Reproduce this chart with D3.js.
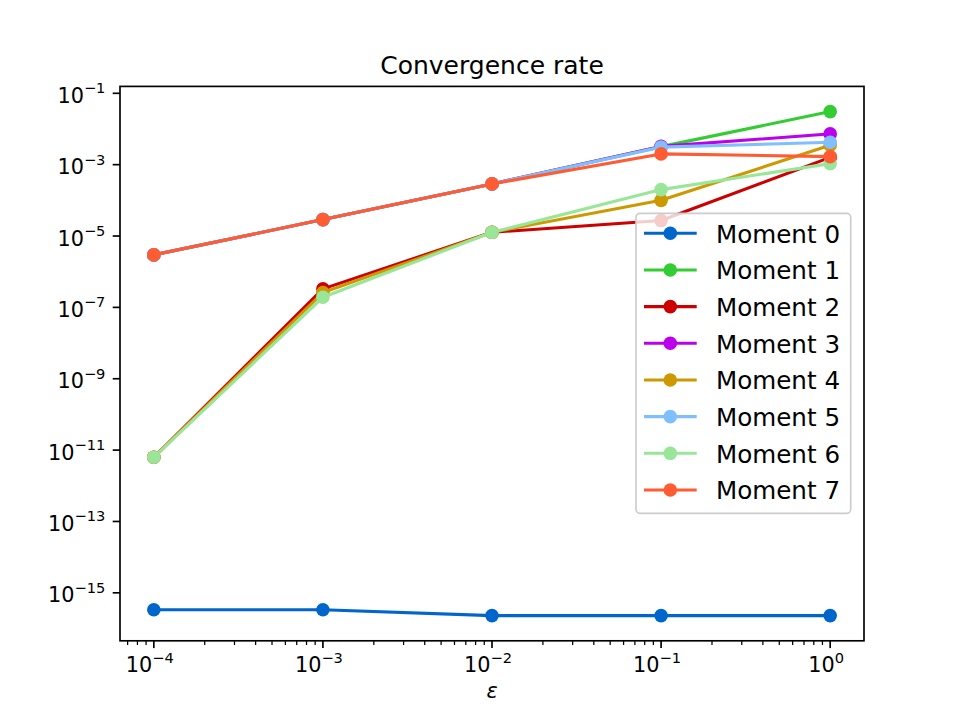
<!DOCTYPE html>
<html>
<head>
<meta charset="utf-8">
<script src="https://cdn.jsdelivr.net/npm/d3@7"></script>
<style>
  body { margin: 0; background: #fff; }
  svg text { font-family: "DejaVu Sans", sans-serif; fill: #000; }
</style>
</head>
<body>
<div id="chart"></div>
<script>
// ---------- DATA ----------
const epsilons = [1e-4, 1e-3, 1e-2, 1e-1, 1e0];

const moment0 = [3.35e-16, 3.35e-16, 2.3e-16, 2.3e-16, 2.3e-16];
const moment1 = [2.96e-6, 2.89e-5, 2.89e-4, 3.2e-3, 3.07e-2];
const moment2 = [6.3e-12, 3.3e-7, 1.27e-5, 2.71e-5, 1.6e-3];
const moment3 = [2.96e-6, 2.89e-5, 2.89e-4, 3.25e-3, 7.28e-3];
const moment4 = [6.3e-12, 2.6e-7, 1.27e-5, 1.0e-4, 3.5e-3];
const moment5 = [2.96e-6, 2.89e-5, 2.89e-4, 3.1e-3, 4.24e-3];
const moment6 = [6.3e-12, 1.92e-7, 1.27e-5, 2.0e-4, 1.07e-3];
const moment7 = [2.96e-6, 2.89e-5, 2.89e-4, 2.0e-3, 1.68e-3];

const seriesNames = ["Moment 0", "Moment 1", "Moment 2", "Moment 3",
  "Moment 4", "Moment 5", "Moment 6", "Moment 7"];
const seriesValues = [moment0, moment1, moment2, moment3,
  moment4, moment5, moment6, moment7];
const seriesColors = ["#0066CC", "#33CC33", "#CC0000", "#BB00EE",
  "#CC9900", "#80BFFF", "#99E699", "#FF5C33"];

const xTickExps = [-4, -3, -2, -1, 0];
const yTickExps = [-15, -13, -11, -9, -7, -5, -3, -1];

// ---------- LAYOUT ----------
const width = 960;
const height = 720;
const plot = { left: 120, right: 864, top: 86.4, bottom: 640.8 };
const markerR = 6.8;

const svg = d3.select("#chart")
  .append("svg")
  .attr("width", width)
  .attr("height", height);

// log scales with matplotlib-like 5% margins (in log space)
const xLog = d3.extent(epsilons, (d) => Math.log10(d));
const xPad = (xLog[1] - xLog[0]) * 0.05;
const x = d3.scaleLog()
  .domain([Math.pow(10, xLog[0] - xPad), Math.pow(10, xLog[1] + xPad)])
  .range([plot.left, plot.right]);

const allValues = seriesValues.flat();
const yLog = d3.extent(allValues, (d) => Math.log10(d));
const yPad = (yLog[1] - yLog[0]) * 0.05;
const y = d3.scaleLog()
  .domain([Math.pow(10, yLog[0] - yPad), Math.pow(10, yLog[1] + yPad)])
  .range([plot.bottom, plot.top]);

const series = seriesNames.map((name, i) => ({
  name: name,
  color: seriesColors[i],
  points: epsilons.map((e, j) => ({ x: e, y: seriesValues[i][j] })),
}));

// ---------- LINES + MARKERS ----------
const line = d3.line()
  .x((d) => x(d.x))
  .y((d) => y(d.y));

const dataG = svg.append("g");
series.forEach((s) => {
  const g = dataG.append("g");
  g.append("path")
    .datum(s.points)
    .attr("d", line)
    .attr("fill", "none")
    .attr("stroke", s.color)
    .attr("stroke-width", 3.1)
    .attr("stroke-linejoin", "round")
    .attr("stroke-linecap", "square");
  g.selectAll("circle")
    .data(s.points)
    .enter()
    .append("circle")
    .attr("cx", (d) => x(d.x))
    .attr("cy", (d) => y(d.y))
    .attr("r", markerR)
    .attr("fill", s.color);
});

// ---------- AXES ----------
svg.append("rect")
  .attr("x", plot.left)
  .attr("y", plot.top)
  .attr("width", plot.right - plot.left)
  .attr("height", plot.bottom - plot.top)
  .attr("fill", "none")
  .attr("stroke", "#000")
  .attr("stroke-width", 1.67);

// x major ticks
const xAxisG = svg.append("g");
xTickExps.forEach((e) => {
  const px = x(Math.pow(10, e));
  xAxisG.append("line")
    .attr("x1", px).attr("x2", px)
    .attr("y1", plot.bottom).attr("y2", plot.bottom + 7.3)
    .attr("stroke", "#000").attr("stroke-width", 1.67);
  const t = xAxisG.append("text")
    .attr("x", px - 4)
    .attr("y", plot.bottom + 31.5)
    .attr("text-anchor", "middle")
    .style("font-size", "20.8px");
  t.append("tspan").text("10");
  t.append("tspan")
    .attr("dy", -9.5)
    .style("font-size", "14.6px")
    .text(e < 0 ? "\u2212" + Math.abs(e) : String(e));
});

// x minor ticks
const [xd0, xd1] = x.domain();
for (let e = -5; e <= 0; e++) {
  for (let k = 2; k <= 9; k++) {
    const v = k * Math.pow(10, e);
    if (v < xd0 || v > xd1) continue;
    const px = x(v);
    xAxisG.append("line")
      .attr("x1", px).attr("x2", px)
      .attr("y1", plot.bottom).attr("y2", plot.bottom + 4.2)
      .attr("stroke", "#000").attr("stroke-width", 1.25);
  }
}

// y major ticks
const yAxisG = svg.append("g");
yTickExps.forEach((e) => {
  const py = y(Math.pow(10, e));
  yAxisG.append("line")
    .attr("x1", plot.left - 7.3).attr("x2", plot.left)
    .attr("y1", py).attr("y2", py)
    .attr("stroke", "#000").attr("stroke-width", 1.67);
  const t = yAxisG.append("text")
    .attr("x", plot.left - 14.6)
    .attr("y", py + 9.5)
    .attr("text-anchor", "end")
    .style("font-size", "20.8px");
  t.append("tspan").text("10");
  t.append("tspan")
    .attr("dy", -9.5)
    .style("font-size", "14.6px")
    .text("\u2212" + Math.abs(e));
});

// title + x label
svg.append("text")
  .attr("x", (plot.left + plot.right) / 2)
  .attr("y", 74)
  .attr("text-anchor", "middle")
  .style("font-size", "25px")
  .text("Convergence rate");

svg.append("text")
  .attr("x", (plot.left + plot.right) / 2)
  .attr("y", 698)
  .attr("text-anchor", "middle")
  .style("font-size", "20.8px")
  .style("font-style", "italic")
  .text("\u03b5");

// ---------- LEGEND ----------
const legend = { x: 636, y: 213.3, w: 214.7, h: 300, rowTop: 233.3, rowStep: 36.67 };
const legendG = svg.append("g");
legendG.append("rect")
  .attr("x", legend.x)
  .attr("y", legend.y)
  .attr("width", legend.w)
  .attr("height", legend.h)
  .attr("rx", 4)
  .attr("fill", "#fff")
  .attr("fill-opacity", 0.8)
  .attr("stroke", "#cccccc")
  .attr("stroke-width", 1.67);

series.forEach((s, i) => {
  const ly = legend.rowTop + i * legend.rowStep;
  legendG.append("line")
    .attr("x1", 644).attr("x2", 696.7)
    .attr("y1", ly).attr("y2", ly)
    .attr("stroke", s.color)
    .attr("stroke-width", 3.1);
  legendG.append("circle")
    .attr("cx", 670.3)
    .attr("cy", ly)
    .attr("r", markerR)
    .attr("fill", s.color);
  legendG.append("text")
    .attr("x", 716)
    .attr("y", ly + 9.2)
    .style("font-size", "24.6px")
    .text(s.name);
});
</script>
</body>
</html>
